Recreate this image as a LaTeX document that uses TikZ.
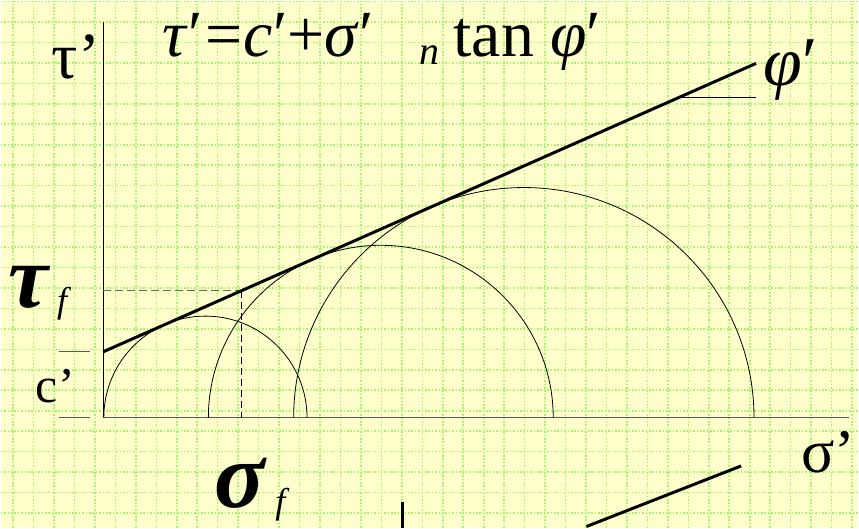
\documentclass[tikz,border=0pt]{standalone}
\usepackage{fontspec}
\setmainfont{Liberation Serif}
\definecolor{paper}{RGB}{255,255,204}
\definecolor{gridgreen}{RGB}{165,245,115}
\begin{document}
\begin{tikzpicture}[
    x=1pt, y=1pt,
    gridline/.style={gridgreen, line width=1.6pt, dash pattern=on 1.6pt off 1.8pt},
    axis/.style={black!65, line width=0.9pt},
    mohr/.style={black, line width=0.8pt},
    envelope/.style={black, line width=3pt},
    lab/.style={inner sep=0pt, anchor=base west},
    big/.style={font=\fontsize{#1}{#1}\selectfont}
  ]
    \fill[paper] (0,0) rectangle (859,528);
    \foreach \k in {0,...,41}
      \draw[gridline] ({12.3+20.5*\k},0) -- ({12.3+20.5*\k},528);
    \foreach \k in {0,...,25}
      \draw[gridline] (0,{527.3-20.5*\k}) -- (859,{527.3-20.5*\k});
    \useasboundingbox (0,0) rectangle (859,528);

    \coordinate (O) at (102.5,110.3);
    \coordinate (ytop) at (102.5,506.3);
    \coordinate (xend) at (850,110.3);
    \coordinate (C) at (102.5,176.3);
    \coordinate (E) at (756.7,465.3);
    \coordinate (F) at (240.7,237.4);
    \coordinate (phiA) at (678.6,430.7);
    \coordinate (phiB) at (756.7,430.7);
    \coordinate (tickA) at (58,176.3);
    \coordinate (tickB) at (89,176.3);
    \coordinate (tickC) at (58,110.3);
    \coordinate (tickD) at (89,110.3);

    \draw[black, line width=0.9pt] (ytop) -- (O);
    \draw[axis] (O) -- (xend);
    \draw[axis] (tickA) -- (tickB);
    \draw[axis] (tickC) -- (tickD);

    \draw[mohr] (103.2,110.3) arc[start angle=180, end angle=0, radius=101.8];
    \draw[mohr] (207.95,110.3) arc[start angle=180, end angle=0, radius=172.75];
    \draw[mohr] (293.4,110.3) arc[start angle=180, end angle=0, radius=230.6];

    \draw[black!60, line width=0.9pt, dash pattern=on 8pt off 4pt] (F -| O) -- (F);
    \draw[black, line width=0.9pt, dash pattern=on 7pt off 4pt] (F) -- (F |- O);

    \draw[envelope] (C) -- (E);
    \draw[black, line width=0.9pt] (phiA) -- (phiB);

    \node[lab, big=66] (taulab) at (51,450) {τ’};
    \node[lab, big=50] (clab) at (35,126) {c’};
    \node[lab, big=62] (sigmalab) at (802,55) {σ’};
    \node[lab, big=70] (philab) at (764,443) {\textit{φ}′};
    \node[lab, big=66] (law) at (162,472)
      {\textit{τ}′\hspace{3pt}=\hspace{1pt}\textit{c}′+\textit{σ}′\hspace{46pt}\raisebox{-8pt}{\fontsize{40}{40}\selectfont\textit{n}}\hspace{14pt}tan \textit{φ}′};
    \node[lab, big=90] (tauf) at (8,221)
      {\textbf{\textit{τ}}\hspace{6pt}\raisebox{-5pt}{\fontsize{36}{36}\selectfont\textit{f}}};
    \node[lab, big=94] (sigf) at (214,20)
      {\textbf{\textit{σ}}\hspace{8pt}\raisebox{-6pt}{\fontsize{36}{36}\selectfont\textit{f}}};

    \coordinate (cutA) at (586.7,1.3);
    \coordinate (cutB) at (741.7,62);
    \coordinate (cutC) at (402.7,26.3);
    \coordinate (cutD) at (402.7,0);
    \draw[envelope] (cutA) -- (cutB);
    \draw[envelope] (cutC) -- (cutD);
\end{tikzpicture}
\end{document}
